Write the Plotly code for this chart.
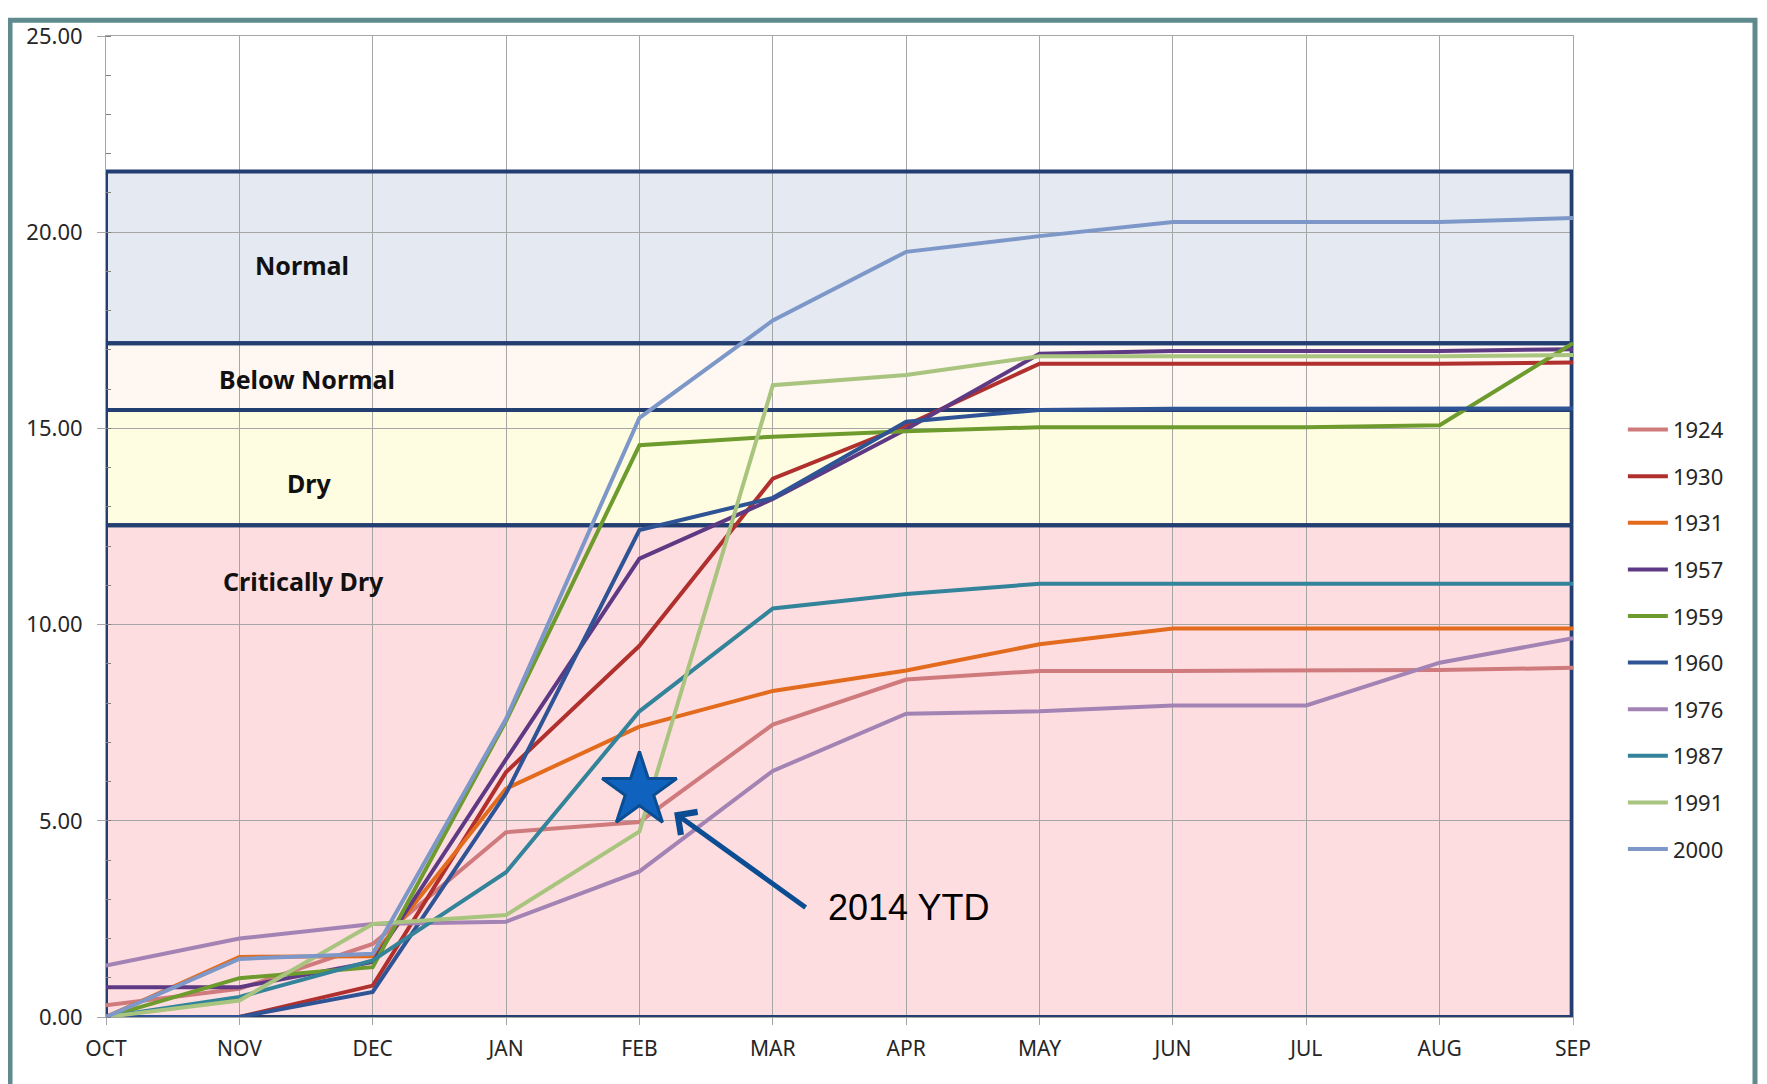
import plotly.graph_objects as go

months = ["OCT", "NOV", "DEC", "JAN", "FEB", "MAR", "APR", "MAY", "JUN", "JUL", "AUG", "SEP"]

years = ["1924", "1930", "1931", "1957", "1959", "1960", "1976", "1987", "1991", "2000"]
v1924 = [0.30, 0.72, 1.86, 4.71, 4.97, 7.45, 8.60, 8.82, 8.82, 8.82, 8.84, 8.90]
v1930 = [0.00, 0.00, 0.80, 6.24, 9.46, 13.72, 15.08, 16.65, 16.65, 16.65, 16.65, 16.68]
v1931 = [0.00, 1.53, 1.55, 5.82, 7.40, 8.31, 8.83, 9.50, 9.90, 9.90, 9.90, 9.90]
v1957 = [0.76, 0.76, 1.40, 6.57, 11.68, 13.20, 14.98, 16.90, 16.97, 16.97, 16.97, 17.02]
v1959 = [0.00, 0.99, 1.27, 7.55, 14.57, 14.79, 14.93, 15.03, 15.03, 15.03, 15.08, 17.17]
v1960 = [0.00, 0.00, 0.64, 5.70, 12.41, 13.23, 15.17, 15.47, 15.50, 15.50, 15.50, 15.51]
v1976 = [1.31, 2.00, 2.37, 2.43, 3.71, 6.27, 7.73, 7.79, 7.94, 7.94, 9.03, 9.65]
v1987 = [0.00, 0.51, 1.44, 3.69, 7.79, 10.41, 10.78, 11.04, 11.04, 11.04, 11.04, 11.04]
v1991 = [0.00, 0.42, 2.37, 2.60, 4.73, 16.10, 16.36, 16.84, 16.84, 16.84, 16.84, 16.87]
v2000 = [0.00, 1.48, 1.61, 7.60, 15.27, 17.75, 19.50, 19.90, 20.26, 20.26, 20.26, 20.36]
series = [v1924, v1930, v1931, v1957, v1959, v1960, v1976, v1987, v1991, v2000]
colors = ["#CF7A7C", "#B0302E", "#E26B1E", "#5E3A85", "#6E9B2E",
          "#2F5496", "#A283B4", "#33839A", "#A9C47F", "#7D98C8"]

band_names = ["Critically Dry", "Dry", "Below Normal", "Normal"]
band_lower = [0.0, 12.53, 15.47, 17.17]
band_upper = [12.53, 15.47, 17.17, 21.55]
band_fill = ["#FEDDE0", "#FEFDE1", "#FEF7F2", "#E4E9F2"]
band_label_x = [1.48, 1.52, 1.51, 1.47]
band_label_y = [11.1, 13.6, 16.27, 19.16]

ytd_label = "2014 YTD"
ytd_month = 4
ytd_value = 5.77

x = list(range(len(months)))

fig = go.Figure()

for name, vals, col in zip(years, series, colors):
    fig.add_trace(go.Scatter(
        x=x, y=vals, mode="lines", name=name,
        line=dict(color=col, width=4), legendgroup=name,
    ))

fig.add_trace(go.Scatter(
    x=[ytd_month], y=[ytd_value], mode="markers", showlegend=False,
    marker=dict(symbol="star", size=56, color="#0F63BE",
                line=dict(color="#0B4D92", width=3)),
))

shapes = []
for lo, hi, fc in zip(band_lower, band_upper, band_fill):
    shapes.append(dict(type="rect", xref="x", yref="y", x0=0, x1=10.99, y0=lo, y1=hi,
                       fillcolor=fc, line=dict(width=0), layer="below"))
for lo, hi in zip(band_lower, band_upper):
    shapes.append(dict(type="rect", xref="x", yref="y", x0=0, x1=10.99, y0=lo, y1=hi,
                       fillcolor="rgba(0,0,0,0)", line=dict(color="#233F72", width=4),
                       layer="between"))

# outer frame of the picture
W, H = 1767, 1084
ml, mr, mt, mb = 98, 202, 18, 75
pw, ph = W - ml - mr, H - mt - mb
shapes.append(dict(type="rect", xref="paper", yref="paper",
                   x0=-(ml - 2) / pw, x1=1 + (mr - 20) / pw,
                   y0=-(mb - 2) / ph, y1=1 + (mt - 2) / ph,
                   line=dict(color="#5F8B8E", width=5), fillcolor="rgba(0,0,0,0)",
                   layer="below"))

annotations = []
for nm, lx, ly in zip(band_names, band_label_x, band_label_y):
    annotations.append(dict(x=lx, y=ly, xref="x", yref="y", text="<b>%s</b>" % nm,
                            showarrow=False,
                            font=dict(family="Noto Sans", size=25, color="#111111")))

annotations.append(dict(x=4.26, y=5.21, xref="x", yref="y", text="",
                        showarrow=True, ax=133, ay=96, axref="pixel", ayref="pixel",
                        arrowhead=4, arrowsize=1.1, arrowwidth=5, arrowcolor="#0B4D92",
                        standoff=0))
annotations.append(dict(x=6.02, y=2.78, xref="x", yref="y", text=ytd_label,
                        showarrow=False,
                        font=dict(family="Liberation Sans, Arial", size=36, color="#000000")))

ytick_font = dict(family="Noto Sans", size=22, color="#262626")
xtick_font = dict(family="Noto Sans", size=21, color="#262626")
legend_font = dict(family="Noto Sans", size=22, color="#262626")

fig.update_layout(
    width=W, height=H,
    margin=dict(l=ml, r=mr, t=mt, b=mb),
    paper_bgcolor="white", plot_bgcolor="white",
    shapes=shapes, annotations=annotations,
    showlegend=True,
    legend=dict(x=1.034, y=0.62, xanchor="left", yanchor="top",
                font=legend_font, tracegroupgap=15, bgcolor="rgba(0,0,0,0)",
                itemwidth=40),
    xaxis=dict(range=[0, 11], tickmode="array", tickvals=x, ticktext=months,
               showgrid=True, gridcolor="#A6A6A6", gridwidth=1,
               showline=True, linecolor="#A6A6A6", mirror=True,
               ticks="outside", ticklen=7, tickcolor="#A6A6A6",
               ticklabelstandoff=6,
               tickfont=xtick_font, zeroline=False),
    yaxis=dict(range=[0, 25], dtick=5, tick0=0, tickformat=".2f",
               showgrid=True, gridcolor="#A6A6A6", gridwidth=1,
               showline=True, linecolor="#A6A6A6", mirror=True,
               ticks="outside", ticklen=8, tickcolor="#A6A6A6",
               ticklabelstandoff=10,
               minor=dict(dtick=1, ticks="inside", ticklen=5, tickcolor="#808080", showgrid=False),
               tickfont=ytick_font, zeroline=False),
)

fig.write_html("out.html")
